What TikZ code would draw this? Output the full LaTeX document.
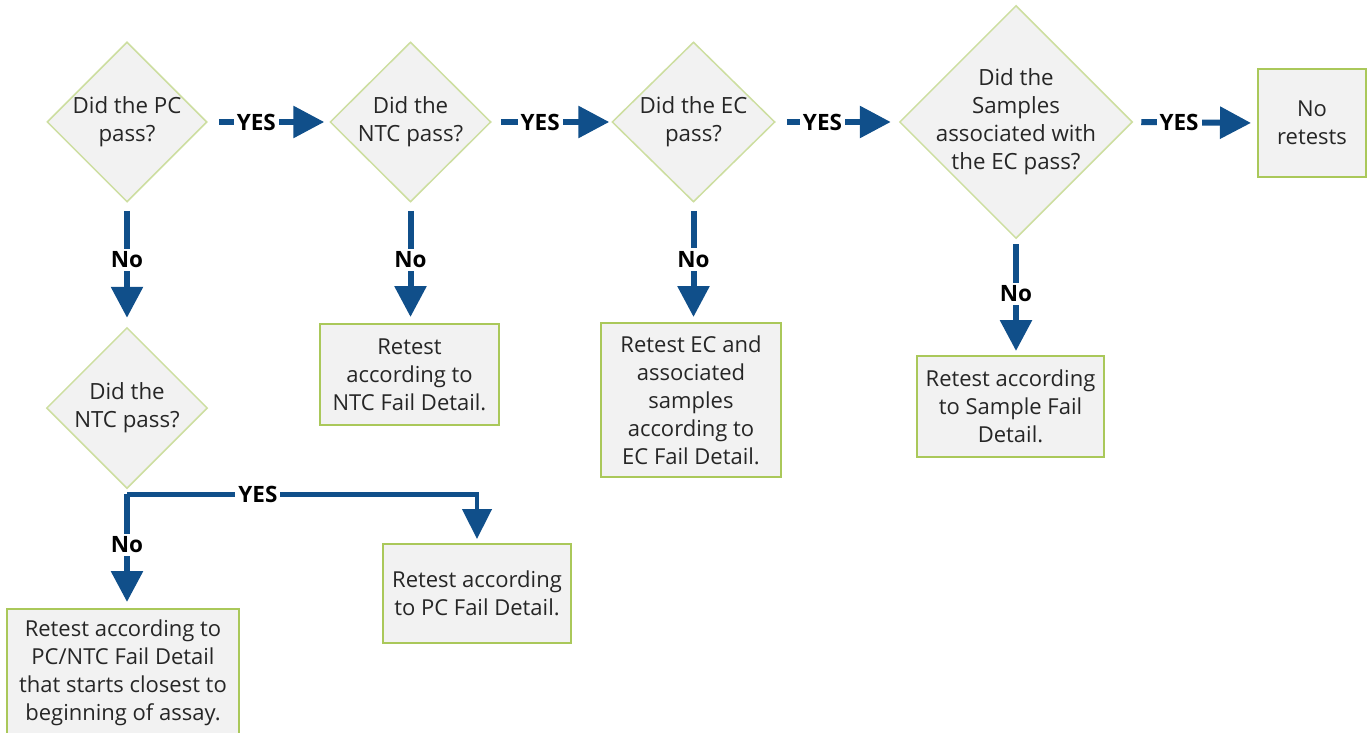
\documentclass[tikz,border=0pt]{standalone}
\usepackage{fontspec}
\setmainfont{Open Sans}
\usetikzlibrary{shapes.geometric,arrows.meta,calc}
\definecolor{boxfill}{RGB}{242,242,242}
\definecolor{diaedge}{RGB}{205,222,160}
\definecolor{boxedge}{RGB}{170,200,90}
\definecolor{flowblue}{RGB}{16,79,138}
\definecolor{textc}{RGB}{38,38,38}
\tikzset{
  dia/.style={diamond, draw=diaedge, fill=boxfill, line width=1.5pt, inner sep=0pt},
  dtext/.style={align=center, text=textc, font=\fontsize{22.3}{28}\selectfont},
  stepbox/.style={rectangle, draw=boxedge, fill=boxfill, line width=2pt, align=center, text=textc, font=\fontsize{22}{28}\selectfont, inner sep=0pt},
  conn/.style={draw=flowblue, line width=6pt, -{Triangle[length=31pt,width=31pt]}},
  thinconn/.style={draw=flowblue, line width=4.5pt, -{Triangle[length=30pt,width=29pt]}},
  lbl/.style={fill=white, text=black, font=\fontsize{22.5}{24}\selectfont\bfseries, inner xsep=3pt, inner ysep=3pt},
}
\begin{document}
\begin{tikzpicture}[x=1pt,y=-1pt]
\useasboundingbox (0,0) rectangle (1371,733);
% diamonds
\node[dia, minimum width=160pt, minimum height=160pt, label={[dtext]center:Did the PC\\pass?}] (d1) at (127,122) {};
\node[dia, minimum width=161pt, minimum height=160pt, label={[dtext]center:Did the\\NTC pass?}] (d2) at (410.5,122) {};
\node[dia, minimum width=163pt, minimum height=160pt, label={[dtext]center:Did the EC\\pass?}] (d3) at (693.5,122) {};
\node[dia, minimum width=233pt, minimum height=233pt, label={[dtext]center:Did the\\Samples\\associated with\\the EC pass?}] (d4) at (1016,122) {};
\node[dia, minimum width=161pt, minimum height=161pt, label={[dtext]center:Did the\\NTC pass?}] (d5) at (127,408) {};
% boxes
\node[stepbox, minimum width=108pt, minimum height=108pt] (noret) at (1312,123) {No\\retests};
\node[stepbox, minimum width=179pt, minimum height=101pt] (ntcbox) at (409.5,374.5) {Retest\\according to\\NTC Fail Detail.};
\node[stepbox, minimum width=180pt, minimum height=154pt] (ecbox) at (691,400) {Retest EC and\\associated\\samples\\according to\\EC Fail Detail.};
\node[stepbox, minimum width=187pt, minimum height=101pt] (sbox) at (1010.5,406.5) {Retest according\\to Sample Fail\\Detail.};
\node[stepbox, minimum width=188pt, minimum height=99pt] (pcfail) at (477,593.5) {Retest according\\to PC Fail Detail.};
\node[stepbox, minimum width=232pt, minimum height=128pt] (pcntc) at (123,673) {Retest according to\\PC/NTC Fail Detail\\that starts closest to\\beginning of assay.};
% YES connectors
\draw[conn, shorten <=11pt, shorten >=5pt] (d1.east) -- node[lbl, pos=0.40] {YES} (d2.west);
\draw[conn, shorten <=9pt, shorten >=2pt] (d2.east) -- node[lbl, pos=0.405] {YES} (d3.west);
\draw[conn, shorten <=11pt, shorten >=8pt] (d3.east) -- node[lbl, pos=0.38] {YES} (d4.west);
\draw[conn, shorten <=8pt, shorten >=6pt] (d4.east) -- node[lbl, pos=0.37] {YES} (noret.west);
% No connectors
\draw[conn, shorten <=8pt, shorten >=9pt] (d1.south) -- node[lbl, pos=0.46] {No} (d1.south |- d5.north);
\draw[conn, shorten <=8pt, shorten >=6pt] (d2.south) -- node[lbl, pos=0.475] {No} (d2.south |- ntcbox.north);
\draw[conn, shorten <=8pt, shorten >=5pt] (d3.south) -- node[lbl, pos=0.475] {No} (d3.south |- ecbox.north);
\draw[conn, shorten <=5pt, shorten >=4pt] (d4.south) -- node[lbl, pos=0.47] {No} (d4.south |- sbox.north);
\draw[conn, shorten <=5pt, shorten >=6pt] (d5.south) -- node[lbl, pos=0.47] {No} (d5.south |- pcntc.north);
% lower YES branch
\coordinate (j) at ($(d5.south)+(0,5)$);
\draw[thinconn, shorten >=4pt] (j) -| node[lbl, pos=0.187, inner ysep=1pt] {YES} (pcfail.north);
\end{tikzpicture}
\end{document}
